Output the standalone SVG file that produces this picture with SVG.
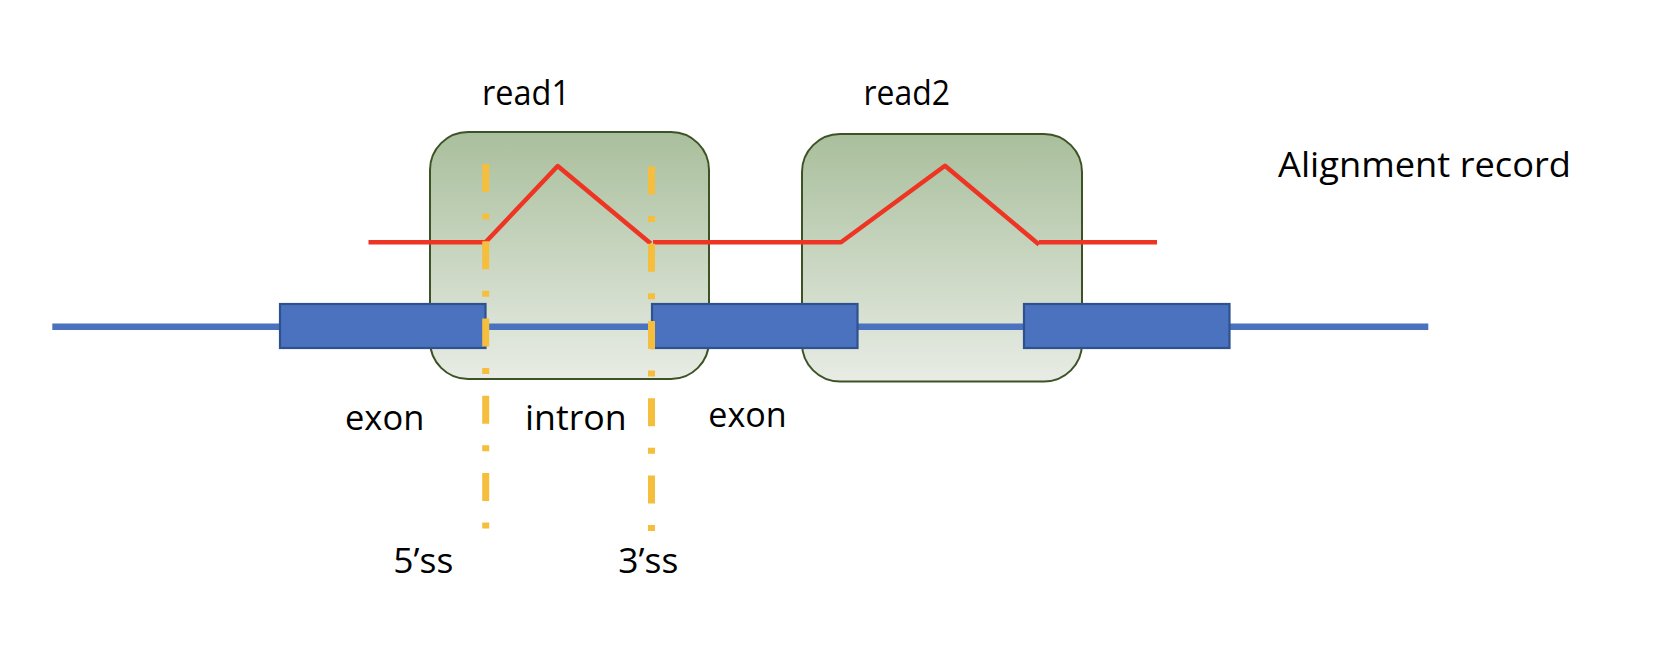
<svg xmlns="http://www.w3.org/2000/svg" width="1656" height="670" viewBox="0 0 1656 670">
  <defs>
    <linearGradient id="readFill" x1="0" y1="0" x2="0" y2="1">
      <stop offset="0" stop-color="#A9BF9C"/>
      <stop offset="1" stop-color="#E8ECE5"/>
    </linearGradient>
    <style>
      .read { fill: url(#readFill); stroke: #3D5326; stroke-width: 2; }
      .exon { fill: #4A72BE; stroke: #2F528F; stroke-width: 2.2; }
      .intronline { stroke: #4A72BE; stroke-width: 6.5; fill: none; }
      .aln { stroke: #EE3524; stroke-width: 4.5; fill: none; stroke-linejoin: round; }
      .ss { stroke: #F5BE3C; stroke-width: 7; fill: none; stroke-dasharray: 28 21.5 6 21.75; }
      .lbl { font-family: "Open Sans", "Liberation Sans", sans-serif; font-size: 34px; fill: #000; }
    </style>
  </defs>
  <rect width="1656" height="670" fill="#FFFFFF"/>

  <g id="read1">
    <rect class="read" x="430" y="132" width="279" height="247" rx="38" ry="38"/>
    <text class="lbl" x="482" y="105" textLength="88" lengthAdjust="spacingAndGlyphs">read1</text>
  </g>
  <g id="read2">
    <rect class="read" x="802" y="134" width="280" height="247.5" rx="38" ry="38"/>
    <text class="lbl" x="863.5" y="105" textLength="86.5" lengthAdjust="spacingAndGlyphs">read2</text>
  </g>

  <g id="connectors">
    <g id="alignment-lines">
      <polyline class="aln" points="368.5,242.3 485.5,242.3 557.7,166 650.7,243.5"/>
      <polyline class="aln" points="653,242.3 841,242.3 945,165.7 1039,244.5"/>
      <line class="aln" x1="1039" y1="242.3" x2="1157" y2="242.3"/>
    </g>
    <g id="gene-line">
      <line class="intronline" x1="52.3" y1="326.7" x2="1428.3" y2="326.7"/>
    </g>
  </g>

  <g id="exon1">
    <rect class="exon" x="280" y="304" width="205.5" height="44"/>
  </g>
  <g id="exon2">
    <rect class="exon" x="652" y="304" width="205.5" height="44"/>
  </g>
  <g id="exon3">
    <rect class="exon" x="1024" y="304" width="205.5" height="44"/>
  </g>

  <g id="splice-sites">
    <line class="ss" x1="485.7" y1="164" x2="485.7" y2="528.5"/>
    <line class="ss" x1="651.5" y1="166.5" x2="651.5" y2="531"/>
  </g>

  <g id="labels">
    <text id="label-align" class="lbl" x="1278" y="176.7" textLength="293" lengthAdjust="spacingAndGlyphs">Alignment record</text>
    <text id="label-exon1" class="lbl" x="345" y="430" textLength="79.3" lengthAdjust="spacingAndGlyphs">exon</text>
    <text id="label-intron" class="lbl" x="525" y="430" textLength="101.7" lengthAdjust="spacingAndGlyphs">intron</text>
    <text id="label-exon2" class="lbl" x="708.3" y="427" textLength="78.4" lengthAdjust="spacingAndGlyphs">exon</text>
    <text id="label-5ss" class="lbl" x="393.3" y="573.3" textLength="60" lengthAdjust="spacingAndGlyphs">5’ss</text>
    <text id="label-3ss" class="lbl" x="618.3" y="573.3" textLength="60" lengthAdjust="spacingAndGlyphs">3’ss</text>
  </g>
</svg>
